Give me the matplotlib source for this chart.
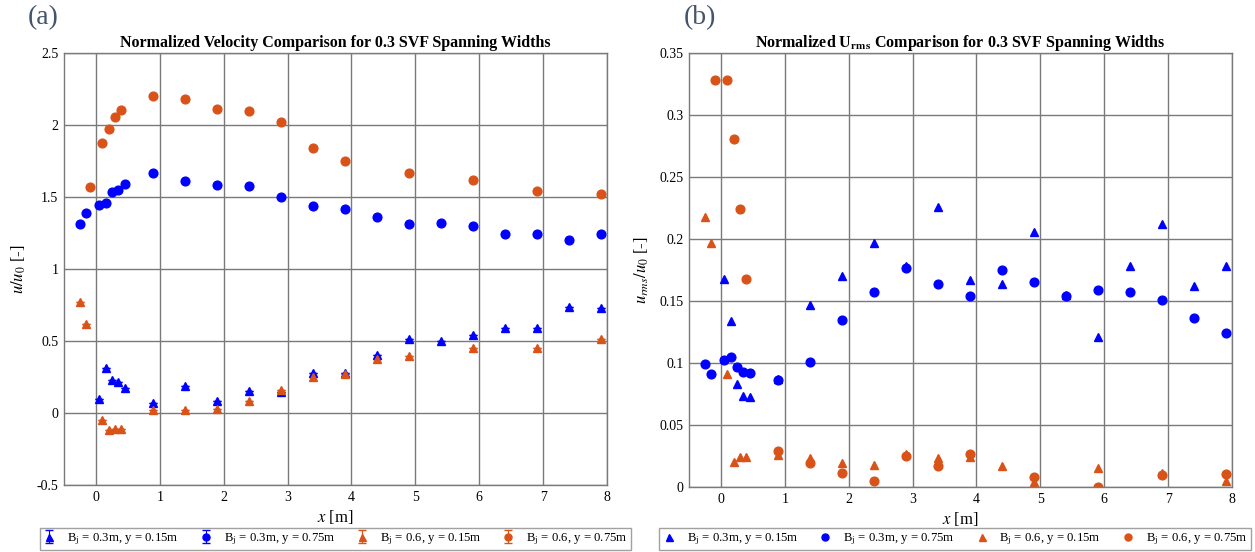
import matplotlib
matplotlib.use("Agg")
import matplotlib.pyplot as plt
import numpy as np

plt.rcParams['font.family'] = ['Liberation Serif', 'DejaVu Serif']
plt.rcParams['mathtext.fontset'] = 'stix'

BLUE = '#0000FF'
ORANGE = '#D95319'

# ---- Panel (a): normalized velocity ----
x_b03_y015 = [0.05, 0.15, 0.25, 0.35, 0.45, 0.9, 1.4, 1.9, 2.4, 2.9, 3.4, 3.9, 4.4, 4.9, 5.4, 5.9, 6.4, 6.9, 7.4, 7.9]
u_b03_y015 = [0.10, 0.31, 0.23, 0.215, 0.175, 0.07, 0.185, 0.085, 0.15, 0.145, 0.275, 0.28, 0.40, 0.515, 0.50, 0.54, 0.59, 0.59, 0.737, 0.727]

x_b03_y075 = [-0.25, -0.15, 0.05, 0.15, 0.25, 0.35, 0.45, 0.9, 1.4, 1.9, 2.4, 2.9, 3.4, 3.9, 4.4, 4.9, 5.4, 5.9, 6.4, 6.9, 7.4, 7.9]
u_b03_y075 = [1.315, 1.39, 1.446, 1.46, 1.535, 1.546, 1.59, 1.667, 1.613, 1.585, 1.574, 1.50, 1.437, 1.42, 1.36, 1.313, 1.317, 1.297, 1.243, 1.243, 1.20, 1.243]

x_b06_y015 = [-0.25, -0.15, 0.1, 0.2, 0.3, 0.4, 0.9, 1.4, 1.9, 2.4, 2.9, 3.4, 3.9, 4.4, 4.9, 5.9, 6.9, 7.9]
u_b06_y015 = [0.77, 0.62, -0.05, -0.12, -0.11, -0.11, 0.02, 0.02, 0.03, 0.08, 0.16, 0.25, 0.27, 0.372, 0.394, 0.45, 0.453, 0.511]

x_b06_y075 = [-0.1, 0.1, 0.2, 0.3, 0.4, 0.9, 1.4, 1.9, 2.4, 2.9, 3.4, 3.9, 4.9, 5.9, 6.9, 7.9]
u_b06_y075 = [1.572, 1.877, 1.974, 2.053, 2.106, 2.199, 2.178, 2.113, 2.10, 2.02, 1.842, 1.752, 1.669, 1.62, 1.545, 1.524]

# ---- Panel (b): normalized Urms ----
r_b03_y015 = [0.168, 0.134, 0.083, 0.073, 0.0725, 0.087, 0.147, 0.17, 0.197, 0.178, 0.226, 0.167, 0.1635, 0.206, 0.155, 0.121, 0.178, 0.212, 0.162, 0.178]
r_b03_y075 = [0.099, 0.091, 0.1027, 0.1048, 0.097, 0.093, 0.092, 0.086, 0.101, 0.135, 0.157, 0.177, 0.1635, 0.154, 0.175, 0.165, 0.154, 0.159, 0.157, 0.151, 0.1365, 0.124]
r_b06_y015 = [0.218, 0.197, 0.091, 0.02, 0.0245, 0.0245, 0.0255, 0.023, 0.0197, 0.018, 0.027, 0.023, 0.024, 0.0166, 0.004, 0.015, 0.011, 0.005]
r_b06_y075 = [0.328, 0.328, 0.281, 0.224, 0.168, 0.029, 0.019, 0.011, 0.005, 0.025, 0.017, 0.0265, 0.0077, 0.0003, 0.0095, 0.0107]

labels = [r'B$_{\rm j}$ = 0.3m, y = 0.15m', r'B$_{\rm j}$ = 0.3m, y = 0.75m',
          r'B$_{\rm j}$ = 0.6, y = 0.15m', r'B$_{\rm j}$ = 0.6, y = 0.75m']

xticks = [0, 1, 2, 3, 4, 5, 6, 7, 8]
yticks_a = [-0.5, 0, 0.5, 1, 1.5, 2, 2.5]
yticklabels_a = ['-0.5', '0', '0.5', '1', '1.5', '2', '2.5']
yticks_b = [0, 0.05, 0.1, 0.15, 0.2, 0.25, 0.3, 0.35]
yticklabels_b = ['0', '0.05', '0.1', '0.15', '0.2', '0.25', '0.3', '0.35']

fig = plt.figure(figsize=(12.55, 5.52), dpi=100)
axA = fig.add_axes([64/1255, 67/552, 543/1255, 432/552])
axB = fig.add_axes([689/1255, 65/552, 543/1255, 434/552])

ms = 6.3

def style(ax):
    ax.grid(True, color='#7a7a7a', linewidth=1.0)
    ax.set_axisbelow(True)
    for s in ax.spines.values():
        s.set_color('#7a7a7a')
        s.set_linewidth(1.0)
    ax.tick_params(length=0, labelsize=10, pad=4)
    ax.set_xlim(-0.5, 8)
    ax.set_xticks(xticks)
    ax.set_xticklabels([str(t) for t in xticks])
    ax.set_xlabel(r'$\it{x}$ [m]', fontsize=12, labelpad=3)

leg_kw = dict(loc='upper center', ncol=4, fontsize=9.2, frameon=True, fancybox=False,
              edgecolor='#8a8a8a', handlelength=1.0, columnspacing=1.6,
              borderpad=0.25, handletextpad=0.9, borderaxespad=0.0, markerscale=0.8)

# Panel a
series_a = [(x_b03_y015, u_b03_y015, BLUE, '^'), (x_b03_y075, u_b03_y075, BLUE, 'o'),
            (x_b06_y015, u_b06_y015, ORANGE, '^'), (x_b06_y075, u_b06_y075, ORANGE, 'o')]
for (xs, ys, c, m), lab in zip(series_a, labels):
    axA.errorbar(xs, ys, yerr=np.zeros(len(ys)), fmt=m, color=c, ms=ms, capsize=3,
                 elinewidth=0.8, label=lab)
style(axA)
axA.set_ylim(-0.5, 2.5)
axA.set_yticks(yticks_a)
axA.set_yticklabels(yticklabels_a)
axA.set_ylabel(r'$\it{u/u}_{\it 0}$ [-]', fontsize=12, labelpad=6)
axA.set_title('Normalized Velocity Comparison for 0.3 SVF Spanning Widths',
              fontsize=11.5, fontweight='bold', pad=4)
axA.legend(bbox_to_anchor=(0.5, -0.1), **leg_kw)

# Panel b
series_b = [(x_b03_y015, r_b03_y015, BLUE, '^'), (x_b03_y075, r_b03_y075, BLUE, 'o'),
            (x_b06_y015, r_b06_y015, ORANGE, '^'), (x_b06_y075, r_b06_y075, ORANGE, 'o')]
for (xs, ys, c, m), lab in zip(series_b, labels):
    axB.plot(xs, ys, linestyle='none', marker=m, color=c, ms=ms, label=lab)
style(axB)
axB.set_ylim(0, 0.35)
axB.set_yticks(yticks_b)
axB.set_yticklabels(yticklabels_b)
axB.set_ylabel(r'$\it{u}_{\it rms}\it{/u}_{\it 0}$ [-]', fontsize=12, labelpad=6)
axB.set_title(r'Normalized U$_{\bf rms}$ Comparison for 0.3 SVF Spanning Widths',
              fontsize=11.5, fontweight='bold', pad=4)
axB.legend(bbox_to_anchor=(0.49, -0.095), **leg_kw)

fig.text(28/1255, 1 - 18/552, '(a)', fontsize=20, color='#44546A', va='center', ha='left')
fig.text(684/1255, 1 - 18/552, '(b)', fontsize=20, color='#44546A', va='center', ha='left')

fig.savefig('out.png', dpi=100)
